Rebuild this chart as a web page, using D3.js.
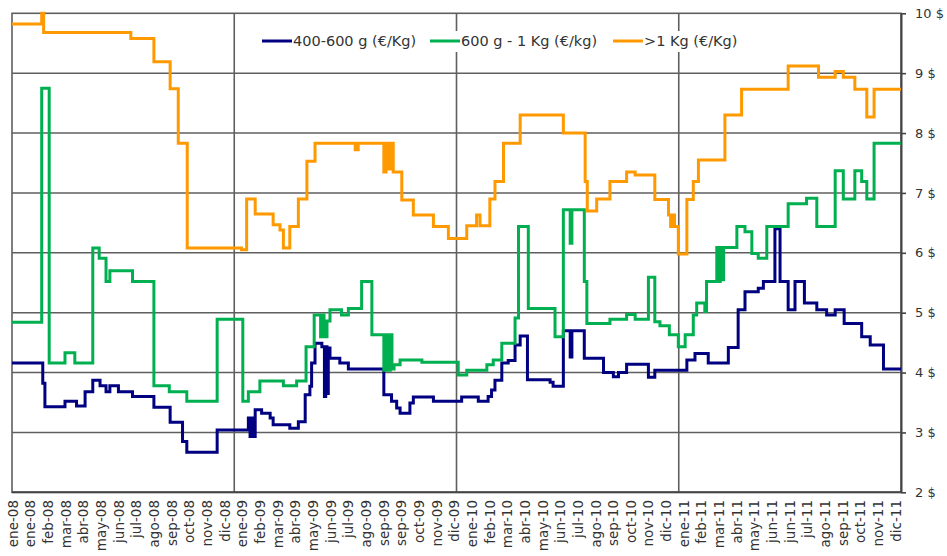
<!DOCTYPE html>
<html><head><meta charset="utf-8">
<script src="https://cdn.jsdelivr.net/npm/d3@7/dist/d3.min.js"></script>
<style>
body{margin:0;background:#fff;}
svg{display:block;font-family:"DejaVu Sans",Verdana,sans-serif;}
</style>
</head><body>
<svg id="chart" width="947" height="556"></svg>
<script>
// ---- data ----
const xLabels = ["ene-08","ene-08","feb-08","mar-08","abr-08","may-08","jun-08","jul-08","ago-08","sep-08","oct-08","nov-08","dic-08",
"ene-09","feb-09","mar-09","abr-09","may-09","jun-09","jul-09","ago-09","sep-09","sep-09","oct-09","nov-09","dic-09",
"ene-10","feb-10","mar-10","abr-10","may-10","jun-10","jul-10","ago-10","sep-10","oct-10","nov-10","dic-10",
"ene-11","feb-11","mar-11","abr-11","may-11","jun-11","jun-11","jul-11","ago-11","sep-11","oct-11","nov-11","dic-11"];
const yTicks = [2,3,4,5,6,7,8,9,10];
const yearStartWeeks = [52,104,156];
const seriesNames = ["400-600 g (€/Kg)","600 g - 1 Kg (€/kg)",">1 Kg (€/Kg)"];
const seriesColors = ["#000080","#00b050","#ff9900"];

// [week, price] step points (price holds until next week listed)
const small = [[0,4.16],[7.2,3.82],[7.7,3.43],[12.4,3.52],[15.1,3.44],[17.1,3.68],[18.9,3.87],[20.6,3.78],[22.0,3.68],[22.9,3.78],[24.9,3.68],[28.2,3.60],[33.2,3.42],[37.0,3.17],[39.9,2.85],[40.9,2.67],[48.0,3.04],
[55.3,3.24],[55.7,2.93],[56.1,3.24],[56.5,2.93],[56.9,3.38],[58.4,3.32],[60.4,3.24],[61.1,3.13],[65.0,3.07],[67.0,3.18],[68.6,3.63],[69.7,3.77],[70.1,4.16],[70.9,4.49],[72.5,4.43],[73.1,3.60],[73.4,4.43],[73.7,3.65],[74.0,4.41],[74.4,4.24],[76.7,4.16],[78.7,4.06],[87.0,3.63],[88.8,3.52],[90.0,3.41],[90.8,3.32],[93.1,3.49],[93.9,3.59],[98.6,3.52],
[105.2,3.59],[109.1,3.52],[111.4,3.60],[112.2,3.71],[113.0,3.87],[114.6,4.16],[116.1,4.20],[117.7,4.46],[118.9,4.61],[120.6,3.88],[125.9,3.84],[126.6,3.77],[129.0,4.70],[130.6,4.26],[131.0,4.70],[133.9,4.24],[138.4,4.00],[140.7,3.93],[141.9,4.00],[143.8,4.14],[148.9,3.92],[150.4,4.04],
[157.9,4.21],[159.8,4.32],[162.9,4.16],[167.6,4.42],[169.9,5.05],[171.5,5.35],[174.6,5.41],[175.8,5.52],[178.5,6.40],[179.7,5.52],[181.6,5.05],[183.2,5.52],[185.4,5.16],[188.3,5.05],[190.6,4.96],[192.6,5.05],[194.7,4.82],[198.8,4.60],[200.8,4.46],[203.9,4.06],[208,4.06]];

const medium = [[0,4.84],[6.95,8.75],[8.7,4.16],[12.4,4.33],[14.7,4.16],[18.9,6.08],[20.4,5.91],[22.0,5.52],[22.9,5.70],[28.2,5.52],[33.2,3.78],[36.8,3.68],[40.9,3.52],[48.0,4.89],
[54.0,3.52],[55.3,3.68],[58.0,3.86],[63.5,3.78],[66.6,3.86],[68.8,4.43],[70.7,4.96],[72.2,4.60],[72.6,4.96],[73.0,4.60],[73.7,4.86],[74.4,5.05],[77.1,4.96],[78.7,5.07],[81.8,5.52],[84.2,4.63],[87.0,4.04],[87.5,4.63],[88.0,4.04],[88.5,4.63],[88.9,4.06],[89.4,4.13],[90.8,4.21],[95.9,4.17],
[104.4,3.96],[106.4,4.04],[111.1,4.13],[112.6,4.21],[114.6,4.49],[117.7,4.91],[118.5,6.44],[120.8,5.07],[127.05,4.60],[129.0,6.72],[130.6,6.16],[131.0,6.72],[133.9,5.52],[134.5,4.82],[139.9,4.89],[143.8,4.97],[145.8,4.89],[148.9,5.59],[150.4,4.85],[151.6,4.78],[153.8,4.63],
[155.9,4.43],[157.5,4.63],[159.4,4.96],[160.2,5.16],[162.1,5.02],[162.5,5.52],[164.9,6.09],[165.3,5.52],[165.7,6.09],[166.1,5.55],[166.5,6.09],[169.6,6.44],[171.5,6.35],[173.1,5.99],[174.6,5.91],[176.6,6.44],[181.6,6.82],[185.9,6.91],[188.3,6.44],[192.6,7.37],[194.5,6.90],[197.2,7.37],[198.8,7.19],[200.0,6.90],[201.7,7.83],[208,7.83]];

const large = [[0,9.82],[6.95,10.0],[7.4,9.68],[27.8,9.58],[33.2,9.19],[37.0,8.74],[38.9,7.83],[41.0,6.08],
[53.7,6.05],[54.9,6.90],[56.9,6.65],[61.1,6.47],[62.7,6.38],[63.5,6.08],[65.0,6.44],[67.0,6.90],[69.0,7.53],[70.9,7.83],[80.3,7.72],[81.0,7.83],[87.0,7.35],[87.5,7.83],[88.0,7.40],[88.5,7.83],[89.2,7.35],[91.2,6.88],[93.9,6.63],[98.6,6.44],[102.1,6.24],
[106.4,6.45],[108.7,6.63],[109.5,6.45],[111.8,6.90],[113.0,7.19],[115.0,7.83],[118.9,8.30],[129.0,8.00],[134.1,7.19],[134.6,6.70],[136.8,6.90],[139.9,7.19],[143.8,7.35],[145.8,7.30],[150.4,6.89],[153.6,6.63],[154.1,6.44],[154.5,6.63],[155.0,6.44],
[155.9,5.98],[157.9,6.89],[159.4,7.19],[160.6,7.55],[166.8,8.30],[170.7,8.73],[181.6,9.12],[188.7,8.93],[192.6,9.03],[194.5,8.93],[197.2,8.73],[200.0,8.27],[201.7,8.73],[208,8.73]];

const seriesData = [small, medium, large];

// ---- chart ----
const svg = d3.select("#chart");
const x = d3.scaleLinear().domain([0,208]).range([12,901]);
const y = d3.scaleLinear().domain([2,10]).range([492.3,13.3]);
const xl = d3.scalePoint().domain(d3.range(xLabels.length)).range([13,896]);
const gridColor = "#5f5f5f";

// horizontal gridlines
svg.append("g").selectAll("line").data(yTicks.filter(d=>d>2 && d<10)).join("line")
  .attr("x1",x(0)).attr("x2",x(208)).attr("y1",d=>y(d)).attr("y2",d=>y(d))
  .attr("stroke",gridColor).attr("stroke-width",1.6);
// vertical year gridlines
svg.append("g").selectAll("line").data(yearStartWeeks).join("line")
  .attr("x1",d=>x(d)).attr("x2",d=>x(d)).attr("y1",y(10)).attr("y2",y(2))
  .attr("stroke",gridColor).attr("stroke-width",1.6);
// frame
svg.append("rect").attr("x",x(0)).attr("y",y(10)).attr("width",x(208)-x(0)).attr("height",y(2)-y(10))
  .attr("fill","none").attr("stroke",gridColor).attr("stroke-width",1.6);
svg.append("line").attr("x1",x(0)).attr("x2",x(208)).attr("y1",y(2)).attr("y2",y(2))
  .attr("stroke","#444").attr("stroke-width",2);

// right axis
const yAxis = d3.axisRight(y).tickValues(yTicks).tickSize(5).tickSizeOuter(0).tickPadding(9).tickFormat(d=>d+" $");
const ga = svg.append("g").attr("transform",`translate(${x(208)},0)`).call(yAxis);
ga.select(".domain").attr("stroke","#444").attr("stroke-width",2);
ga.selectAll(".tick line").attr("stroke","#444").attr("stroke-width",1.6);
ga.selectAll(".tick text").attr("fill","#333").style("font-size","13px").style("font-family",'"DejaVu Sans",Verdana,sans-serif');

// x labels
svg.append("g").selectAll("text").data(xLabels).join("text")
  .attr("transform",(d,i)=>`translate(${xl(i)},500) rotate(-90)`)
  .attr("text-anchor","end").attr("dy","0.35em")
  .attr("fill","#333").style("font-size","13.5px")
  .text(d=>d);

// series
const line = d3.line().x(d=>x(d[0])).y(d=>y(d[1])).curve(d3.curveStepAfter);
svg.append("g").selectAll("path").data(seriesData).join("path")
  .attr("d",line).attr("fill","none")
  .attr("stroke",(d,i)=>seriesColors[i]).attr("stroke-width",3).attr("stroke-linejoin","miter");

// legend
const lg = svg.append("g");
lg.append("rect").attr("x",257).attr("y",31).attr("width",490).attr("height",21).attr("fill","#fff");
const legendX = [262,430,613];
const items = lg.selectAll("g").data(seriesNames).join("g").attr("transform",(d,i)=>`translate(${legendX[i]},41)`);
items.append("line").attr("x1",0).attr("x2",30).attr("y1",0).attr("y2",0)
  .attr("stroke",(d,i)=>seriesColors[i]).attr("stroke-width",3);
items.append("text").attr("x",31).attr("dy","0.35em").attr("fill","#333").style("font-size","14.5px").text(d=>d);
</script>
</body></html>
